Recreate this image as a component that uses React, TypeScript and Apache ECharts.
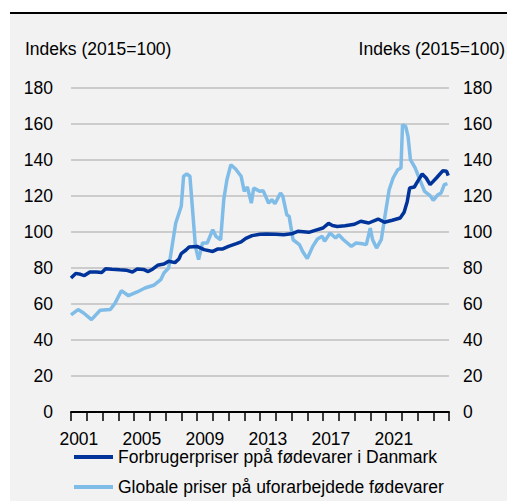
import React, { useEffect, useRef } from "react";
import * as echarts from "echarts";

const yearLabels = ["2001","2002","2003","2004","2005","2006","2007","2008","2009","2010","2011","2012","2013","2014","2015","2016","2017","2018","2019","2020","2021","2022","2023","2024"];
const yTicks = [0, 20, 40, 60, 80, 100, 120, 140, 160, 180];

const dkName = "Forbrugerpriser ppå fødevarer i Danmark";
const glName = "Globale priser på uforarbejdede fødevarer";

const dkYears = [2001.0,2001.3,2001.6,2001.85,2002.2,2002.6,2002.95,2003.2,2003.6,2004.1,2004.5,2004.9,2005.2,2005.6,2005.9,2006.2,2006.5,2006.9,2007.2,2007.6,2007.85,2008.0,2008.3,2008.5,2009.0,2009.45,2010.0,2010.3,2010.6,2011.0,2011.5,2011.8,2012.1,2012.5,2013.0,2013.4,2014.0,2014.5,2015.0,2015.4,2016.1,2016.5,2017.0,2017.35,2017.6,2017.9,2018.4,2019.0,2019.4,2019.9,2020.5,2020.9,2021.4,2021.9,2022.15,2022.35,2022.5,2022.8,2023.0,2023.3,2023.55,2023.8,2024.2,2024.6,2024.85,2024.95];
const dkValues = [74.5,77,76.5,75.8,77.8,77.8,77.5,79.6,79.3,79,78.8,77.8,79.4,79.2,78,79.5,81.5,82.2,83.7,83,85,88,90,91.7,92,90.2,89.2,90.5,90.5,92,93.5,94.5,96.5,98,98.8,98.9,98.8,98.5,99,100.4,99.8,100.9,102.2,104.8,103.6,103.1,103.5,104.3,106,105,107.2,105.4,106.5,107.8,111,117,124.4,125,128,132.2,130,126.3,130,134,133.7,131.3];

const glYears = [2001.0,2001.45,2001.8,2002.3,2002.85,2003.5,2003.8,2004.2,2004.65,2005.2,2005.7,2006.25,2006.7,2006.9,2007.2,2007.65,2008.0,2008.15,2008.35,2008.55,2008.7,2008.9,2009.1,2009.35,2009.65,2010.0,2010.2,2010.5,2010.7,2010.9,2011.15,2011.45,2011.8,2012.0,2012.2,2012.45,2012.6,2013.0,2013.2,2013.55,2013.75,2013.95,2014.3,2014.45,2014.7,2014.85,2015.1,2015.5,2015.7,2016.0,2016.35,2016.65,2016.95,2017.1,2017.45,2017.8,2018.0,2018.3,2018.8,2019.1,2019.5,2019.75,2020.0,2020.15,2020.4,2020.7,2020.9,2021.2,2021.45,2021.75,2021.95,2022.05,2022.25,2022.4,2022.55,2022.85,2023.15,2023.45,2023.8,2024.0,2024.3,2024.5,2024.7,2024.9];
const glValues = [54,56.9,55,51.3,56.5,56.9,60.5,67.4,64.6,66.7,68.9,70.4,73.5,77.2,80,105,114.3,131,132.2,131,114.3,92,84.6,93.9,93.9,101.3,97.6,95.7,118,129,137.4,135,131,122.6,125,116,124.4,122.6,123,116,118,115.7,121.7,119.8,109.6,108.7,95.7,93,89.3,85.2,92,96.1,97.6,94.8,99.4,96.7,98.5,95.7,92,93.9,93.5,93,102.2,95.7,91.1,95.7,106.9,123.5,130,134.6,135.6,159.6,158.7,153,140.2,135.6,129,122.6,120.2,117.6,120.7,121.7,126.3,126.9];

const FONT = "Liberation Sans, Arial, sans-serif";
const FS = 17.5;

export default function App() {
  const ref = useRef<HTMLDivElement>(null);
  useEffect(() => {
    if (!ref.current) return;
    const chart = echarts.init(ref.current, undefined, { renderer: "svg" });
    const dkData = dkYears.map((x, i) => [x, dkValues[i]]);
    const glData = glYears.map((x, i) => [x, glValues[i]]);
    const yAxisBase = {
      type: "value" as const,
      min: yTicks[0],
      max: yTicks[yTicks.length - 1],
      interval: 20,
      axisLine: { show: false },
      axisTick: { show: false },
    };
    chart.setOption({
      animation: false,
      backgroundColor: "transparent",
      textStyle: { fontFamily: FONT },
      grid: { left: 71, right: 58, top: 88, bottom: 90, containLabel: false },
      graphic: [
        { type: "text", left: 25, top: 40, style: { text: "Indeks (2015=100)", font: `${FS}px ${FONT}`, fill: "#000" } },
        { type: "text", right: 2, top: 40, style: { text: "Indeks (2015=100)", font: `${FS}px ${FONT}`, fill: "#000" } },
      ],
      xAxis: [
        {
          type: "value",
          min: 2001,
          max: 2025,
          interval: 1,
          axisLine: { show: true, lineStyle: { color: "#000", width: 2 } },
          axisTick: { show: true, length: 9, lineStyle: { color: "#000", width: 1.5 } },
          axisLabel: { show: false },
          splitLine: { show: false },
        },
        {
          type: "category",
          data: yearLabels,
          position: "bottom",
          boundaryGap: true,
          axisLine: { show: false },
          axisTick: { show: false },
          axisLabel: { interval: 3, margin: 20, fontSize: FS, lineHeight: 13, color: "#000", fontFamily: FONT },
        },
      ],
      yAxis: [
        {
          ...yAxisBase,
          position: "left",
          axisLabel: { margin: 18, fontSize: FS, color: "#000", fontFamily: FONT },
          splitLine: { show: true, lineStyle: { color: "#bfbfbf", width: 1.5 } },
        },
        {
          ...yAxisBase,
          position: "right",
          axisLabel: { margin: 14, fontSize: FS, color: "#000", fontFamily: FONT },
          splitLine: { show: false },
        },
      ],
      legend: {
        orient: "vertical",
        left: 74,
        top: 448,
        padding: 0,
        itemWidth: 39,
        itemHeight: 4,
        itemGap: 12,
        icon: "rect",
        textStyle: { fontSize: FS, lineHeight: 16, color: "#000", fontFamily: FONT },
        data: [dkName, glName],
      },
      series: [
        {
          name: glName,
          type: "line",
          xAxisIndex: 0,
          yAxisIndex: 0,
          data: glData,
          showSymbol: false,
          lineStyle: { color: "#80bce8", width: 3.5 },
          itemStyle: { color: "#80bce8" },
        },
        {
          name: dkName,
          type: "line",
          xAxisIndex: 0,
          yAxisIndex: 0,
          data: dkData,
          showSymbol: false,
          lineStyle: { color: "#00349a", width: 3.5 },
          itemStyle: { color: "#00349a" },
        },
      ],
    });
    return () => chart.dispose();
  }, []);

  return (
    <div style={{ position: "fixed", left: 0, top: 0, width: 507, height: 502, background: "#fff", overflow: "hidden" }}>
      <div style={{ position: "absolute", left: 10, top: 12, width: 497, height: 2, background: "#000" }} />
      <div style={{ position: "absolute", left: 10, top: 14, width: 497, height: 487, background: "#f2f2f2" }} />
      <div ref={ref} style={{ position: "absolute", left: 0, top: 0, width: 507, height: 502 }} />
    </div>
  );
}
